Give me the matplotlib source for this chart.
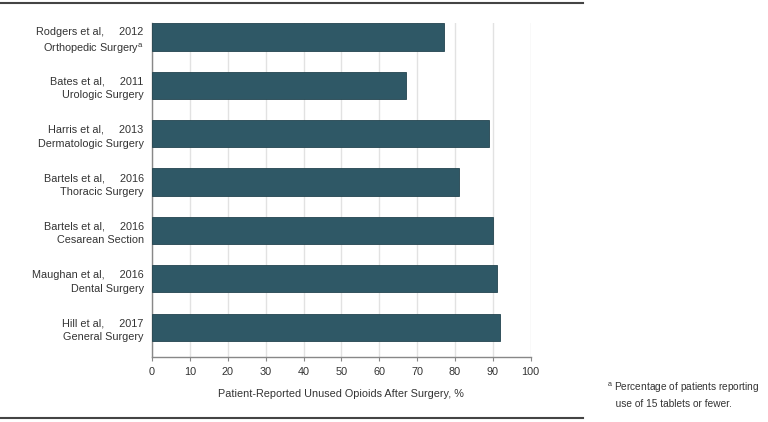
import matplotlib.pyplot as plt
from matplotlib.lines import Line2D

plt.rcParams['font.family'] = ['Liberation Sans', 'DejaVu Sans']
plt.rcParams['mathtext.fontset'] = 'custom'
plt.rcParams['mathtext.rm'] = 'Liberation Sans'

# Data
studies = ["Rodgers et al,", "Bates et al,", "Harris et al,", "Bartels et al,",
           "Bartels et al,", "Maughan et al,", "Hill et al,"]
years = [2012, 2011, 2013, 2016, 2016, 2016, 2017]
surgeries = ["Orthopedic Surgery$^{\\mathrm{a}}$", "Urologic Surgery", "Dermatologic Surgery",
             "Thoracic Surgery", "Cesarean Section", "Dental Surgery", "General Surgery"]
unused_pct = [77, 67, 89, 81, 90, 91, 92]
xticks = list(range(0, 101, 10))

bar_color = "#2f5866"
text_color = "#333333"
fs = 7.8

fig = plt.figure(figsize=(7.68, 4.22), dpi=100)
ax = fig.add_axes([0.198, 0.154, 0.493, 0.7915])

ypos = list(range(len(unused_pct)))
ax.barh(ypos, unused_pct, height=0.56, color=bar_color, edgecolor="#23444f",
        linewidth=0.6, zorder=3)

ax.set_xlim(0, 100)
ax.set_ylim(6.62, -0.29)
ax.set_xticks(xticks)
ax.set_xticklabels([str(t) for t in xticks], fontsize=fs, color=text_color)
ax.set_yticks(ypos)
labels = [f"{s}     {y}\n{g}" for s, y, g in zip(studies, years, surgeries)]
ax.set_yticklabels(labels, fontsize=fs, color=text_color, linespacing=1.5)
ax.tick_params(axis="y", length=0, pad=6)
ax.tick_params(axis="x", length=3, color="#888888", pad=4.5)

ax.grid(axis="x", color="#e2e2e2", linewidth=1, zorder=0)
for side in ["top", "right"]:
    ax.spines[side].set_visible(False)
for side in ["left", "bottom"]:
    ax.spines[side].set_color("#888888")
    ax.spines[side].set_linewidth(1)

ax.set_xlabel("Patient-Reported Unused Opioids After Surgery, %", fontsize=fs,
              color=text_color, labelpad=8)

# rules at top and bottom
fig.add_artist(Line2D([0, 0.759], [0.992, 0.992], color="#444444", linewidth=1.5))
fig.add_artist(Line2D([0, 0.759], [0.009, 0.009], color="#444444", linewidth=1.5))

# footnote
fig.text(0.790, 0.03, "$^{\\mathrm{a}}$ Percentage of patients reporting\n   use of 15 tablets or fewer.",
         fontsize=7.3, color=text_color, ha="left", va="bottom", linespacing=1.6)

fig.savefig("out.png", dpi=100)
